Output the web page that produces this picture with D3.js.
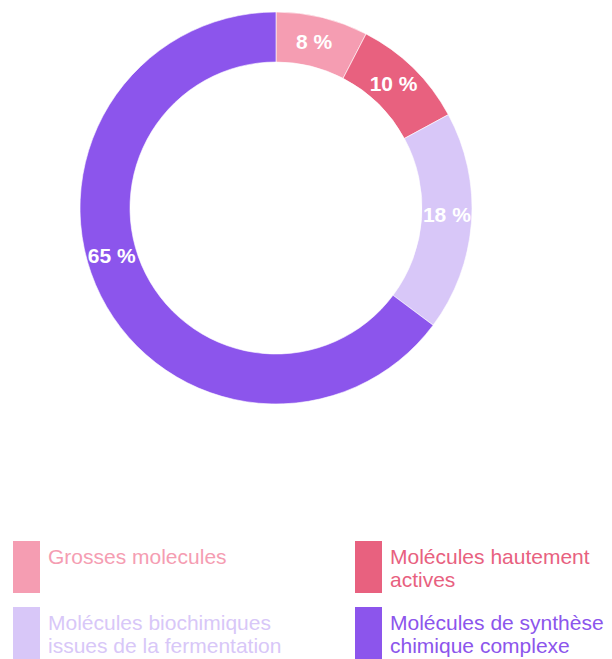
<!DOCTYPE html>
<html>
<head>
<meta charset="utf-8">
<script src="https://cdn.jsdelivr.net/npm/d3@7"></script>
<style>
  html, body { margin: 0; padding: 0; background: #ffffff; }
  svg { display: block; font-family: "Liberation Sans", Arial, sans-serif; }
</style>
</head>
<body>
<svg id="chart" width="612" height="659"></svg>
<script>
// Share of each molecule family (percent)
const categories = [
  "Grosses molecules",
  "Molécules hautement actives",
  "Molécules biochimiques issues de la fermentation",
  "Molécules de synthèse chimique complexe"
];
const values = [7.6, 9.5, 18.1, 64.8];
// Legend text, wrapped over lines
const legendLines = [
  ["Grosses molecules"],
  ["Molécules hautement", "actives"],
  ["Molécules biochimiques", "issues de la fermentation"],
  ["Molécules de synthèse", "chimique complexe"]
];
const colors = ["#f59db2", "#e8617f", "#d8c7f8", "#8c55ec"];

const svg = d3.select("#chart");
const cx = 276, cy = 208;
const outerR = 196, innerR = 146;

const color = d3.scaleOrdinal().domain(categories).range(colors);

const pie = d3.pie().sort(null).value(d => d.value);
const data = categories.map((c, i) => ({ name: c, value: values[i] }));
const arcs = pie(data);
const total = d3.sum(values);

const arc = d3.arc().innerRadius(innerR).outerRadius(outerR);

const g = svg.append("g").attr("transform", `translate(${cx},${cy})`);

g.selectAll("path.slice")
  .data(arcs)
  .join("path")
  .attr("class", "slice")
  .attr("d", arc)
  .attr("fill", d => color(d.data.name))
  .attr("stroke", "#ffffff")
  .attr("stroke-width", 0.6);

// Percentage labels inside the ring; the widest slice keeps its label
// a little past the middle of its arc
const labelR = (innerR + outerR) / 2;
const maxVal = d3.max(values);
g.selectAll("text.pct")
  .data(arcs)
  .join("text")
  .attr("class", "pct")
  .each(function(d) {
    const t = d.data.value === maxVal ? 0.545 : 0.47;
    const a = d.startAngle + t * (d.endAngle - d.startAngle);
    d3.select(this)
      .attr("x", labelR * Math.sin(a))
      .attr("y", -labelR * Math.cos(a));
  })
  .attr("text-anchor", "middle")
  .attr("dominant-baseline", "central")
  .attr("fill", "#ffffff")
  .attr("font-size", 21)
  .attr("font-weight", "bold")
  .text(d => Math.round(d.data.value / total * 100) + " %");

// Legend: two columns, two rows
const legendX = d3.scalePoint().domain([0, 1]).range([13, 355]);
const legendY = d3.scalePoint().domain([0, 1]).range([541, 607]);

const items = svg.append("g")
  .selectAll("g.item")
  .data(categories)
  .join("g")
  .attr("class", "item")
  .attr("transform", (d, i) => `translate(${legendX(i % 2)},${legendY(Math.floor(i / 2))})`);

items.append("rect")
  .attr("width", 27)
  .attr("height", 52)
  .attr("fill", d => color(d));

items.append("text")
  .attr("x", 35)
  .attr("y", 22.5)
  .attr("font-size", 21)
  .attr("fill", d => color(d))
  .selectAll("tspan")
  .data((d, i) => legendLines[i])
  .join("tspan")
  .attr("x", 35)
  .attr("dy", (d, j) => j === 0 ? 0 : 23.7)
  .text(d => d);
</script>
</body>
</html>
